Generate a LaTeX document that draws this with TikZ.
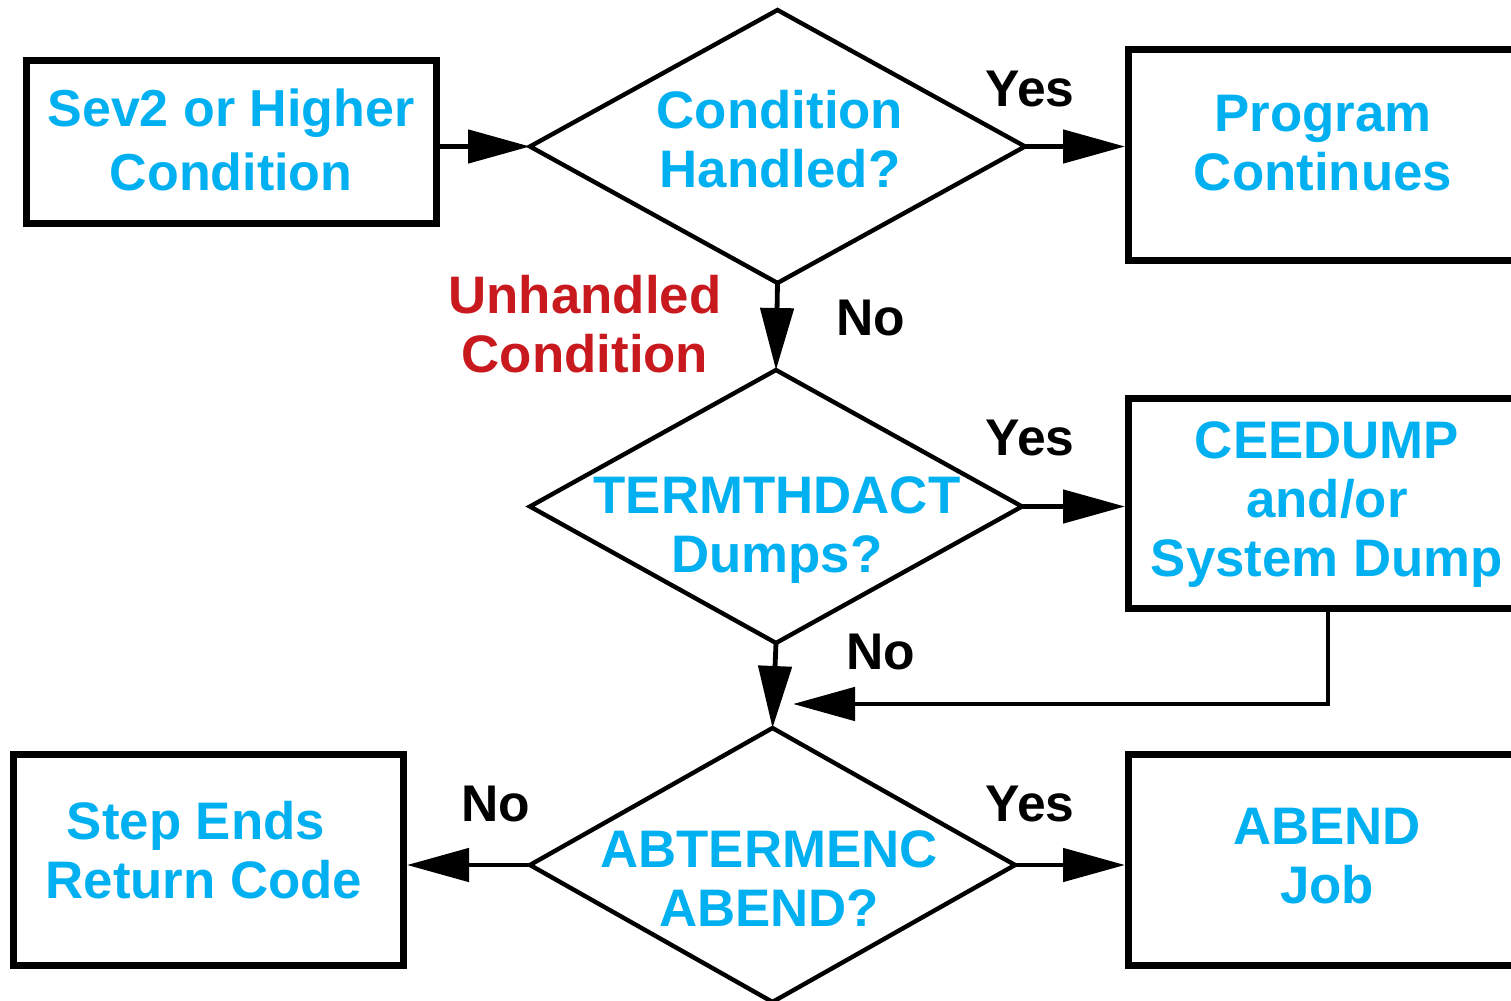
\documentclass[tikz,border=0pt]{standalone}
\usepackage{fontspec}
\setmainfont{Liberation Sans}
\usetikzlibrary{arrows.meta,shapes.geometric}
\definecolor{flowblue}{HTML}{00B0F0}
\definecolor{flowred}{HTML}{C8191E}

\begin{document}
\begin{tikzpicture}[x=0.5pt,y=-0.5pt,
  box/.style={draw, line width=3.5pt, rectangle, inner sep=0pt},
  decision/.style={draw, line width=2.2pt, diamond, inner sep=0pt, outer sep=0pt},
  boxtext/.style={anchor=north, inner sep=0pt, align=center, text=flowblue,
    font=\fontsize{26.4pt}{29.5pt}\selectfont\bfseries},
  redtext/.style={boxtext, text=flowred},
  answer/.style={anchor=north, inner sep=0pt,
    font=\fontsize{25.8pt}{29.5pt}\selectfont\bfseries},
  flow/.style={line width=2.4pt, -{Triangle[length=31pt,width=16.5pt]}},
]
\clip (0,0) rectangle (1511,1001);
\fill[white] (0,0) rectangle (1511,1001);

% process boxes
\node[box, minimum width=205pt,   minimum height=81.5pt]  (start)    at (231.5,142)    {};
\node[box, minimum width=199.5pt, minimum height=105.25pt] (cont)    at (1328,154.75)  {};
\node[box, minimum width=199.5pt, minimum height=105.25pt] (dump)    at (1328,503.25)  {};
\node[box, minimum width=195pt,   minimum height=105.5pt] (stepend)  at (208.5,860)    {};
\node[box, minimum width=199.5pt, minimum height=105.5pt] (abendjob) at (1328,860)     {};

% decisions
\node[decision, minimum width=247.5pt, minimum height=136.5pt] (handled) at (777.5,146.5) {};
\node[decision, minimum width=246pt,   minimum height=136.5pt] (tdump)   at (776,506.5)   {};
\node[decision, minimum width=242.5pt, minimum height=137pt]   (abend)   at (772.5,865)   {};

% texts
\node[boxtext, font=\fontsize{26pt}{32pt}\selectfont\bfseries] (t-start) at (231,88) {Sev2 or Higher\\Condition};
\node[boxtext] (t-handled)  at (780,90)   {Condition\\Handled?};
\node[boxtext] (t-cont)     at (1323,95)  {Program\\Continues};
\node[redtext] (t-unhandled) at (585,275) {Unhandled\\Condition};
\node[boxtext] (t-tdump)    at (777,476)  {TERMTHDACT\\Dumps?};
\node[boxtext] (t-dump)     at (1327,421) {CEEDUMP\\and/or\\System Dump};
\node[boxtext] (t-abend)    at (769,830)  {ABTERMENC\\ABEND?};
\node[boxtext] (t-stepend)  at (204,801)  {Step Ends\hspace*{8pt}\\Return Code};
\node[boxtext] (t-abendjob) at (1327,808) {ABEND\\Job};

% branch answers
\node[answer] (yes1) at (1030,71)  {Yes};
\node[answer] (yes2) at (1030,420) {Yes};
\node[answer] (yes3) at (1030,786) {Yes};
\node[answer] (no1)  at (871,300)  {No};
\node[answer] (no2)  at (881,634)  {No};
\node[answer] (no3)  at (496,786)  {No};

% connectors
\coordinate (merge) at (793,704);
\draw[flow] (start.east |- handled.west) -- (handled.west);
\draw[flow] (handled.east) -- (handled.east -| cont.west);
\draw[flow] (handled.south) -- (tdump.north);
\draw[flow] (tdump.east) -- (tdump.east -| dump.west);
\draw[flow] (tdump.south) -- (abend.north);
\draw[flow] (dump.south) |- (merge);
\draw[flow] (abend.west) -- (abend.west -| stepend.east);
\draw[flow] (abend.east) -- (abend.east -| abendjob.west);
\end{tikzpicture}
\end{document}
